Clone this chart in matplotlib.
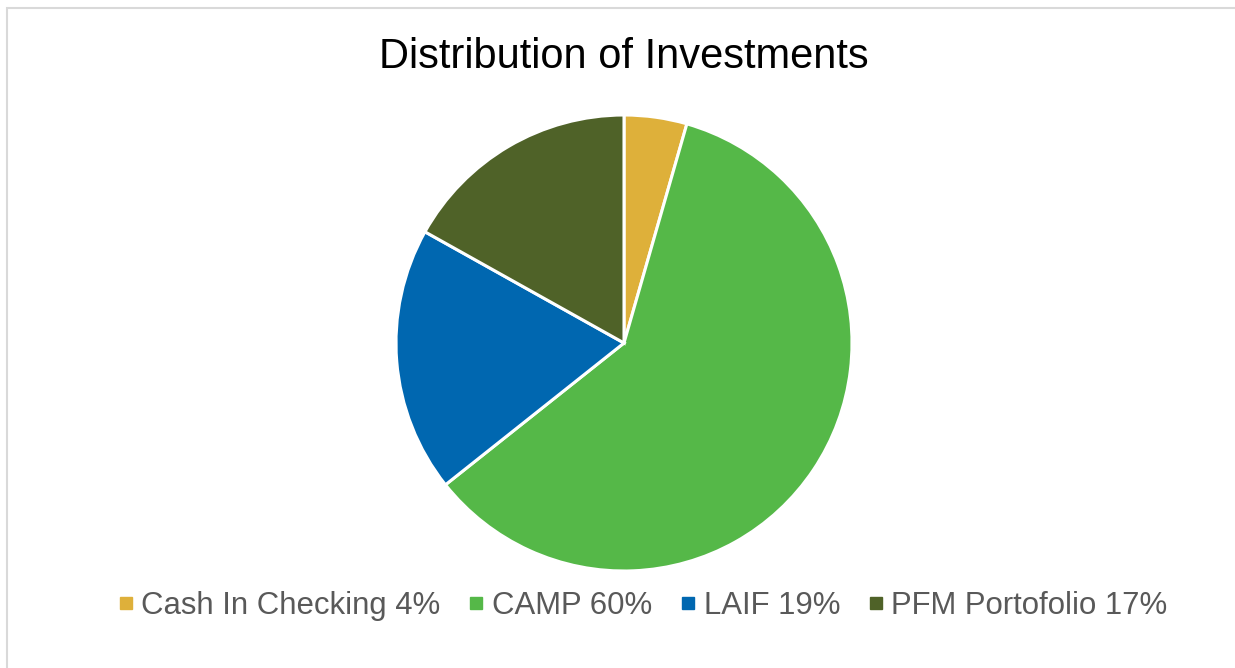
import matplotlib
matplotlib.use("Agg")
import matplotlib.pyplot as plt
from matplotlib.patches import Rectangle
from matplotlib.lines import Line2D

plt.rcParams['font.family'] = ['Liberation Sans', 'DejaVu Sans']

categories = ["Cash In Checking", "CAMP", "LAIF", "PFM Portofolio"]
values = [4.45, 59.9, 18.8, 16.9]
labels = ["Cash In Checking 4%", "CAMP 60%", "LAIF 19%", "PFM Portofolio 17%"]
colors = ["#DEB03A", "#55B848", "#0067B0", "#4F6228"]

W, H = 1235, 668
fig = plt.figure(figsize=(W / 100, H / 100), dpi=100)
fig.patch.set_facecolor("white")

# outer border
fig.add_artist(Rectangle((7 / W, -0.05), 1.1, (H - 8) / H + 0.05, transform=fig.transFigure,
                         fill=False, edgecolor="#D9D9D9", linewidth=1.5))

cx, cy, r = 624, 343, 228
ax = fig.add_axes([(cx - r) / W, (H - cy - r) / H, 2 * r / W, 2 * r / H])
ax.pie(values, colors=colors, startangle=90, counterclock=False, radius=1,
       wedgeprops=dict(edgecolor="white", linewidth=2.2))
ax.set_xlim(-1.0, 1.0)
ax.set_ylim(-1.0, 1.0)
ax.set_aspect("auto")
ax.axis("off")
for p in ax.patches:
    p.set_clip_on(False)

fig.text(624 / W, 1 - 57.5 / H, "Distribution of Investments", ha="center", va="center",
         fontsize=30, color="black")

handles = [Line2D([], [], marker="s", linestyle="none", markersize=8,
                  markerfacecolor=c, markeredgecolor=c) for c in colors]
fig.legend(handles, labels, loc="center", bbox_to_anchor=(644 / W, 1 - 606 / H),
           ncol=4, frameon=False, fontsize=22.4, labelcolor="#595959",
           handlelength=0.36, handletextpad=0.32, columnspacing=0.97,
           borderpad=0, borderaxespad=0)

fig.savefig("out.png", dpi=100)
